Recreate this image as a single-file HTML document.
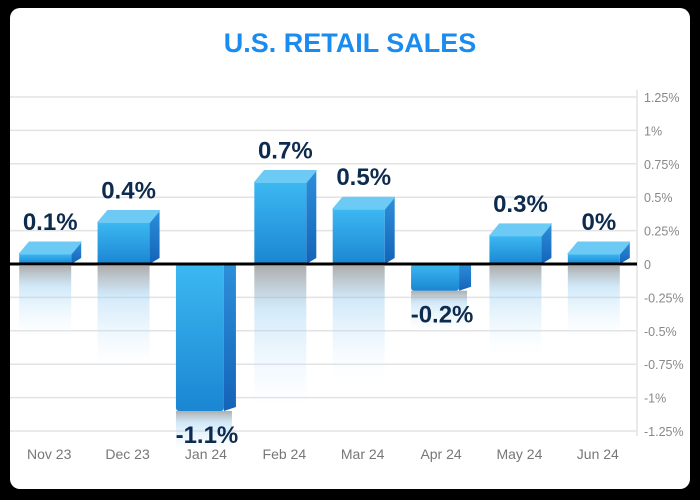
<!DOCTYPE html>
<html><head><meta charset="utf-8"><style>
body{margin:0;background:#000;}
#wrap{position:relative;width:700px;height:500px;background:#000;}
svg{position:absolute;left:0;top:0;}
</style></head><body>
<div id="wrap">
<svg id="chart" width="700" height="500">
<defs>
<linearGradient id="front" x1="0" y1="0" x2="0" y2="1"><stop offset="0" stop-color="#3cb8f2"/><stop offset="1" stop-color="#1b86d2"/></linearGradient>
<linearGradient id="side" x1="0" y1="0" x2="0" y2="1"><stop offset="0" stop-color="#2d8fda"/><stop offset="1" stop-color="#1463b8"/></linearGradient>
<linearGradient id="refl" x1="0" y1="0" x2="0" y2="1"><stop offset="0" stop-color="#777" stop-opacity="0.6"/><stop offset="0.3" stop-color="#9ccff2" stop-opacity="0.45"/><stop offset="1" stop-color="#cfe9fb" stop-opacity="0"/></linearGradient>
</defs>
<rect x="10" y="8" width="680" height="481" rx="10" fill="#fff"/>
<text x="350" y="52" text-anchor="middle" font-family="Liberation Sans, sans-serif" font-weight="bold" font-size="27" fill="#1a8cf0">U.S. RETAIL SALES</text>
<g id="grid"></g><g id="bars"></g><g id="labels"></g>
</svg>
</div>
<script>
const categories=["Nov 23","Dec 23","Jan 24","Feb 24","Mar 24","Apr 24","May 24","Jun 24"];
const values=[0.1,0.4,-1.1,0.7,0.5,-0.2,0.3,0];
const valueLabels=["0.1%","0.4%","-1.1%","0.7%","0.5%","-0.2%","0.3%","0%"];
const tickValues=[1.25,1,0.75,0.5,0.25,0,-0.25,-0.5,-0.75,-1,-1.25];
const tickLabels=["1.25%","1%","0.75%","0.5%","0.25%","0","-0.25%","-0.5%","-0.75%","-1%","-1.25%"];
const NS="http://www.w3.org/2000/svg";
const left=10,right=637,zeroY=264,unit=133.6;
function y(v){return zeroY-v*unit;}
const bw=(right-left)/categories.length;
function xc(i){return left+bw*(i+0.5);}
function mk(tag,attrs,parent){const e=document.createElementNS(NS,tag);for(const k in attrs)e.setAttribute(k,attrs[k]);parent.appendChild(e);return e;}
const grid=document.getElementById('grid'),bars=document.getElementById('bars'),labels=document.getElementById('labels');
tickValues.forEach((t,i)=>{
  if(t!==0){const l=mk('line',{x1:left,x2:right,y1:y(t),y2:y(t),stroke:'#e3e3e3','stroke-width':1.5},grid);
  
  }
  const tx=mk('text',{x:644,y:y(t)+5,'font-family':'Liberation Sans, sans-serif','font-size':12.5,fill:'#888'},grid);
  tx.textContent=tickLabels[i];
  
  
});
const ax=mk('line',{x1:right,x2:right,y1:90,y2:436,stroke:'#e3e3e3','stroke-width':1.5},grid);


const w=62,d=10;
values.forEach((v,i)=>{
  const x0=xc(i)-w/2+1;
  const g=mk('g',{},bars);
  
  
  let labelY;
  if(v>=0){
    const topY=Math.min(y(v),zeroY-22);
    const ft=topY+d+2;
    const fh=zeroY-ft;
    mk('rect',{x:x0,y:zeroY+2,width:w-d,height:fh+60,fill:'url(#refl)'},g);
    mk('polygon',{points:`${x0+w-d},${zeroY} ${x0+w},${zeroY-6} ${x0+w},${topY} ${x0+w-d},${ft}`,fill:'url(#side)'},g);
    mk('rect',{x:x0,y:ft,width:w-d,height:fh,fill:'url(#front)'},g);
    mk('polygon',{points:`${x0},${ft} ${x0+d},${topY} ${x0+w},${topY} ${x0+w-d},${ft}`,fill:'#6dcaf5',stroke:'#6dcaf5','stroke-linejoin':'round'},g);
    labelY=topY-12;
  }else{
    const by=y(v);
    mk('rect',{x:x0,y:by,width:w-6,height:40,fill:'url(#refl)'},g);
    mk('rect',{x:x0,y:zeroY,width:w-14,height:by-zeroY,rx:3,fill:'url(#front)'},g);
    mk('polygon',{points:`${x0+w-14},${zeroY} ${x0+w-2},${zeroY} ${x0+w-2},${by-4} ${x0+w-14},${by}`,fill:'url(#side)'},g);
    labelY=by+32;
  }
  const lt=mk('text',{x:xc(i)+1,y:labelY,'text-anchor':'middle','font-family':'Liberation Sans, sans-serif','font-weight':'bold','font-size':24,fill:'#0d2b4e'},labels);
  lt.textContent=valueLabels[i];
  
  
  const ct=mk('text',{x:xc(i),y:459,'text-anchor':'middle','font-family':'Liberation Sans, sans-serif','font-size':14,fill:'#777'},labels);
  ct.textContent=categories[i];
  
  
});
const zl=mk('line',{x1:left,x2:right,y1:zeroY,y2:zeroY,stroke:'#000','stroke-width':3},labels);


</script>
</body></html>
